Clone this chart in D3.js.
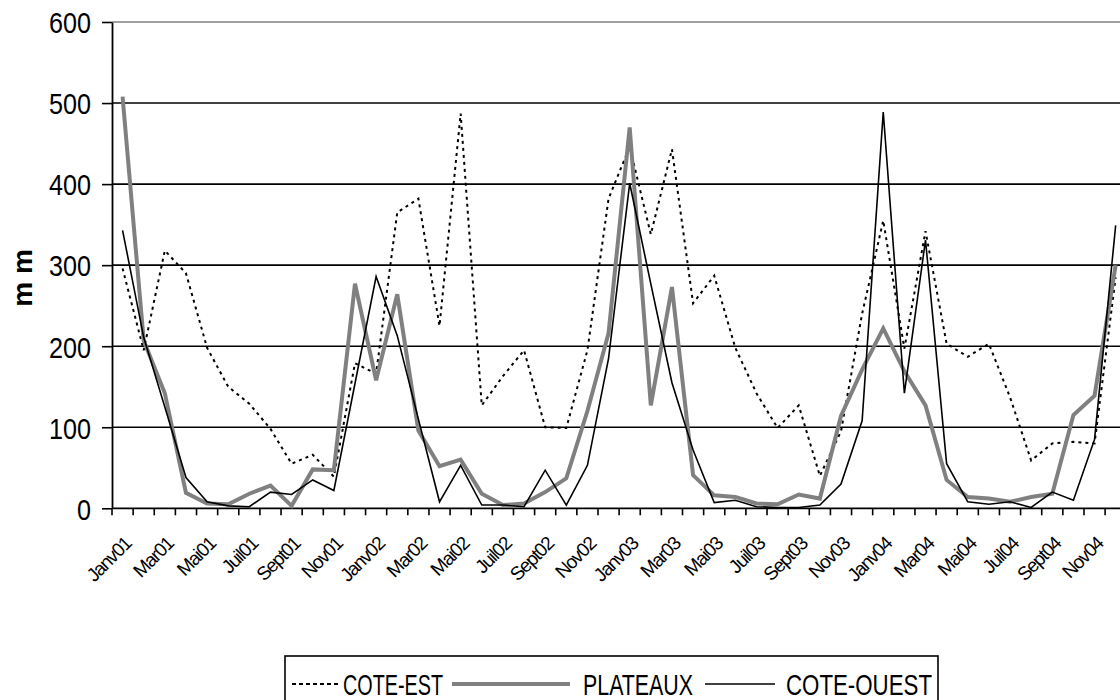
<!DOCTYPE html>
<html>
<head>
<meta charset="utf-8">
<script src="https://cdn.jsdelivr.net/npm/d3@7/dist/d3.min.js"></script>
<style>
  html, body { margin: 0; padding: 0; background: #ffffff; }
  svg { display: block; }
  text { font-family: "Liberation Sans", Arial, sans-serif; fill: #000; }
</style>
</head>
<body>
<svg id="chart" width="1120" height="700"></svg>
<script>
// ---- data ----
const months = ["Janv","Févr","Mar","Avr","Mai","Juin","Juil","Août","Sept","Oct","Nov","Déc"];
const years = ["01","02","03","04"];
const categories = years.flatMap(y => months.map(m => m + y));

const coteEst = [296,195,318,290,198,150,129,98,55,66,39,179,
                 166,365,382,225,487,127,163,195,100,99,195,382,
                 446,338,443,253,287,198,142,99,127,40,95,240,
                 355,197,342,203,187,203,137,59,80,82,80,285];
const plateaux = [508,207,142,19,6,5,18,28,3,48,47,277,
                  158,264,96,52,60,18,4,6,20,37,120,216,
                  470,127,273,41,16,14,6,5,17,12,114,171,
                  222,169,127,35,14,12,8,14,18,115,139,300];
const coteOuest = [343,211,125,38,8,3,2,20,17,35,22,154,
                   286,213,110,8,53,4,4,2,47,4,53,185,
                   401,277,155,72,7,10,2,1,1,4,30,108,
                   489,142,331,55,8,5,8,1,20,10,85,349];
const yTicks = [0,100,200,300,400,500,600];
const seriesNames = ["COTE-EST","PLATEAUX","COTE-OUEST"];
const yTitle = "m m";

// ---- layout ----
const svg = d3.select("#chart");
const left = 112, step = 21.13;
const right = left + step * categories.length;
const x = d3.scaleBand().domain(categories).range([left, right]).padding(0);
const y = d3.scaleLinear().domain([0, 600]).range([508.3, 22]);
const cx = c => x(c) + x.bandwidth() / 2;

// gridlines
svg.append("g").selectAll("line").data(yTicks.filter(v => v > 0)).join("line")
  .attr("x1", left).attr("x2", 1120)
  .attr("y1", d => y(d)).attr("y2", d => y(d))
  .attr("stroke", d => d === 600 ? "#808080" : "#000")
  .attr("stroke-width", 1.6);

// y axis
const yAxis = svg.append("g").attr("transform", `translate(${left},0)`)
  .call(d3.axisLeft(y).tickValues(yTicks).tickSize(10).tickSizeOuter(0).tickPadding(10));
yAxis.select(".domain").attr("stroke", "#000").attr("stroke-width", 1.8);
yAxis.selectAll(".tick line").attr("stroke", "#000").attr("stroke-width", 1.6);
yAxis.selectAll(".tick text")
  .style("font-family", "'Liberation Sans', Arial, sans-serif")
  .style("font-size", "30px").attr("fill", "#000")
  .attr("x", -21).attr("dy", "0.36em")
  .attr("textLength", d => String(d).length * 14)
  .attr("lengthAdjust", "spacingAndGlyphs");

// x axis
svg.append("line").attr("x1", left).attr("x2", 1120)
  .attr("y1", y(0)).attr("y2", y(0))
  .attr("stroke", "#000").attr("stroke-width", 1.8);
svg.append("g").selectAll("line").data(categories).join("line")
  .attr("x1", d => x(d)).attr("x2", d => x(d))
  .attr("y1", y(0)).attr("y2", y(0) + 7)
  .attr("stroke", "#000").attr("stroke-width", 1.6);

// x labels every other month
svg.append("g").selectAll("text").data(categories.filter((d, i) => i % 2 === 0)).join("text")
  .attr("transform", d => `translate(${cx(d) + 5},${y(0) + 32}) rotate(-45)`)
  .attr("text-anchor", "end")
  .attr("dy", "0.35em")
  .style("font-size", "19px")
  .attr("letter-spacing", "-1.3")
  .text(d => d);

// y title
svg.append("text")
  .attr("transform", "translate(32,278) rotate(-90)")
  .attr("text-anchor", "middle")
  .style("font-size", "28px").style("font-weight", "bold")
  .text(yTitle);

// lines
const line = d3.line().x((d, i) => cx(categories[i])).y(d => y(d));
svg.append("path").datum(coteEst).attr("d", line)
  .attr("fill", "none").attr("stroke", "#000").attr("stroke-width", 2)
  .attr("stroke-dasharray", "3,4");
svg.append("path").datum(plateaux).attr("d", line)
  .attr("fill", "none").attr("stroke", "#808080").attr("stroke-width", 4)
  .attr("stroke-linejoin", "miter");
svg.append("path").datum(coteOuest).attr("d", line)
  .attr("fill", "none").attr("stroke", "#000").attr("stroke-width", 1.6);

// legend
const lg = svg.append("g");
lg.append("rect").attr("x", 285).attr("y", 656).attr("width", 653).attr("height", 60)
  .attr("fill", "#fff").attr("stroke", "#000").attr("stroke-width", 1.6);
const ly = 684;
const items = [
  {name: seriesNames[0], x1: 292, x2: 338, tx: 343, tw: 100, stroke: "#000", sw: 2, dash: "4,3"},
  {name: seriesNames[1], x1: 452, x2: 570, tx: 583, tw: 110, stroke: "#808080", sw: 4, dash: null},
  {name: seriesNames[2], x1: 705, x2: 775, tx: 786, tw: 146, stroke: "#000", sw: 1.6, dash: null}
];
items.forEach(it => {
  lg.append("line").attr("x1", it.x1).attr("x2", it.x2).attr("y1", ly).attr("y2", ly)
    .attr("stroke", it.stroke).attr("stroke-width", it.sw)
    .attr("stroke-dasharray", it.dash);
  lg.append("text").attr("x", it.tx).attr("y", ly).attr("dy", "0.36em")
    .style("font-size", "30px")
    .attr("textLength", it.tw).attr("lengthAdjust", "spacingAndGlyphs")
    .text(it.name);
});
</script>
</body>
</html>
